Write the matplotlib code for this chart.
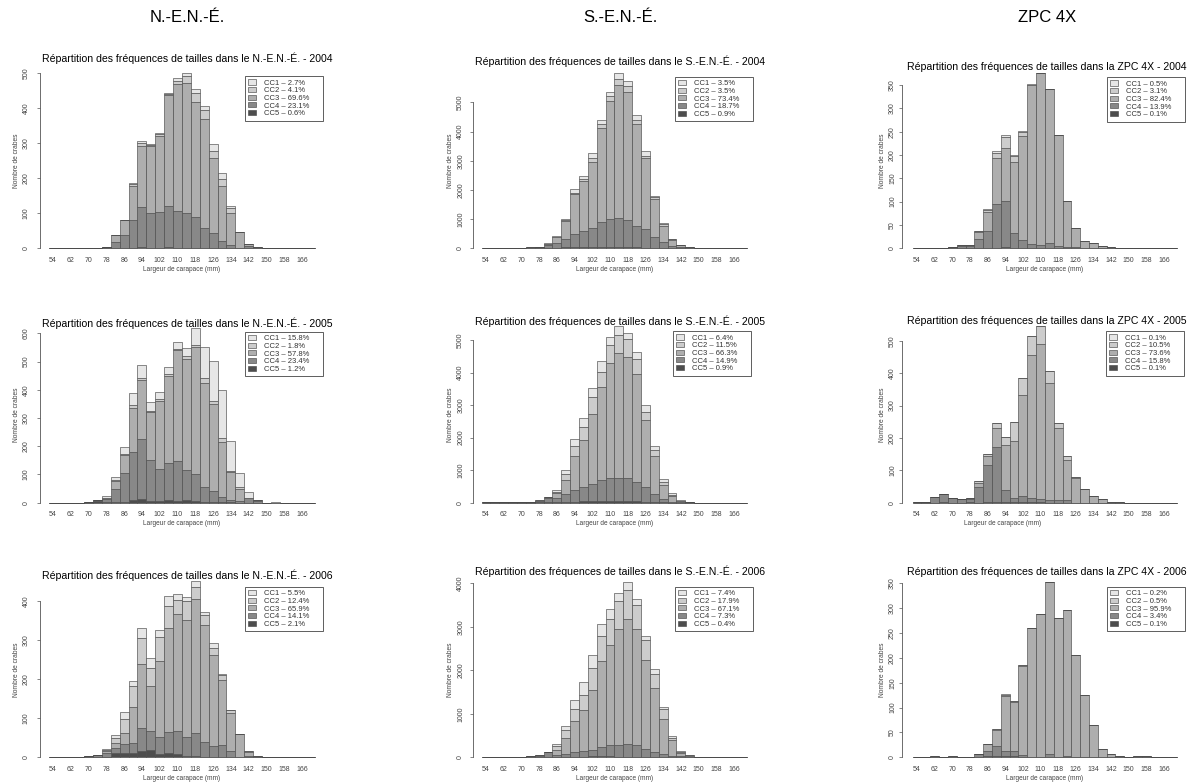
import matplotlib
matplotlib.use("Agg")
import matplotlib.pyplot as plt
import numpy as np

plt.rcParams['font.family'] = ['Liberation Sans', 'DejaVu Sans']

W, H = 1196, 784

# size classes (carapace width, mm) - bar centres
bins = np.arange(54, 171, 4)
tick_mm = np.arange(54, 167, 8)
classes = ["CC1", "CC2", "CC3", "CC4", "CC5"]
colors = {"CC1": "#e6e6e6", "CC2": "#cccccc", "CC3": "#aeaeae",
          "CC4": "#888888", "CC5": "#4d4d4d"}

zones = ["N.-E.N.-É.", "S.-E.N.-É.", "ZPC 4X"]
years = [2004, 2005, 2006]

# ---- N.-E.N.-É. 2004
nene_2004_cc5 = [0,0,0,0,0,0,1,1,1,2,3,2,2,3,2,2,2,2,1,0,0,0,0,0,0,0,0,0,0,0]
nene_2004_cc4 = [0,0,0,0,0,0,3,16,37,79,116,98,101,119,105,98,88,57,42,21,10,2,6,0,0,0,0,0,0,0]
nene_2004_cc3 = [0,0,0,0,0,0,0,21,43,98,173,192,219,316,362,371,329,311,214,158,90,44,6,4,0,0,0,0,0,0]
nene_2004_cc2 = [0,0,0,0,0,0,0,0,0,5,8,4,4,4,10,21,24,25,21,18,14,0,0,0,0,0,0,0,0,0]
nene_2004_cc1 = [0,0,0,0,0,0,0,0,0,4,7,3,3,3,7,8,12,12,19,19,8,0,0,0,0,0,0,0,0,0]
nene_2004_pct = [2.7, 4.1, 69.6, 23.1, 0.6]

# ---- S.-E.N.-É. 2004
sene_2004_cc5 = [0,0,0,0,0,0,0,10,20,30,35,40,45,50,50,50,40,35,25,15,10,5,0,0,0,0,0,0,0,0]
sene_2004_cc4 = [5,5,8,10,15,25,40,110,150,290,445,550,635,840,950,1000,930,715,625,385,190,75,50,20,5,0,0,0,0,0]
sene_2004_cc3 = [0,0,0,0,5,5,10,30,210,600,1370,1710,2280,3240,4060,4550,4380,3500,2430,1290,580,210,60,20,5,0,0,0,0,0]
sene_2004_cc2 = [0,0,0,0,0,0,0,10,20,40,50,70,140,120,140,200,200,150,90,70,40,15,10,0,0,0,0,0,0,0]
sene_2004_cc1 = [0,0,0,0,0,0,0,10,20,40,130,100,150,150,150,200,170,160,150,40,30,15,10,0,0,0,0,0,0,0]
sene_2004_pct = [3.5, 3.5, 73.4, 18.7, 0.9]

# ---- ZPC 4X 2004
zpc_2004_cc5 = [0,0,0,0,0,0,0,0,0,1,2,0,0,0,1,0,0,0,0,0,0,0,0,0,0,0,0,0,0,0]
zpc_2004_cc4 = [0,0,0,0,3,6,6,21,38,95,99,32,18,9,6,12,4,2,2,0,0,0,0,0,0,0,0,0,0,0]
zpc_2004_cc3 = [0,0,0,0,0,1,1,15,40,97,115,154,223,340,369,329,239,99,42,16,11,5,2,0,0,0,0,0,0,0]
zpc_2004_cc2 = [0,0,0,0,0,0,0,2,4,12,22,12,9,2,0,0,0,0,0,0,0,0,0,0,0,0,0,0,0,0]
zpc_2004_cc1 = [0,0,0,0,0,0,0,0,2,4,5,3,2,1,0,0,0,0,0,0,0,0,0,0,0,0,0,0,0,0]
zpc_2004_pct = [0.5, 3.1, 82.4, 13.9, 0.1]

# ---- N.-E.N.-É. 2005
nene_2005_cc5 = [0,0,0,0,0,5,2,2,4,10,14,5,5,8,5,8,5,3,3,2,1,0,0,0,0,0,0,0,0,0]
nene_2005_cc4 = [0,0,0,0,3,5,10,48,100,170,210,148,115,132,143,108,98,52,38,18,7,5,15,5,0,0,0,0,0,0]
nene_2005_cc3 = [0,0,0,0,0,0,3,27,66,155,209,167,240,308,392,394,449,370,309,195,100,43,0,3,0,0,0,0,0,0]
nene_2005_cc2 = [0,0,0,0,0,0,2,3,3,10,7,5,7,7,5,8,5,15,10,13,5,7,3,0,0,0,0,0,0,0]
nene_2005_cc1 = [0,0,0,0,0,0,5,12,24,43,47,32,26,25,23,30,63,110,143,172,104,50,20,0,0,3,0,0,0,0]
nene_2005_pct = [15.8, 1.8, 57.8, 23.4, 1.2]

# ---- S.-E.N.-É. 2005
sene_2005_cc5 = [0,0,0,0,0,0,10,15,20,30,35,40,45,50,60,55,50,40,30,20,10,5,0,0,0,0,0,0,0,0]
sene_2005_cc4 = [10,15,20,25,30,30,40,135,110,240,345,440,515,650,700,705,710,610,450,250,90,15,20,10,0,0,0,0,0,0]
sene_2005_cc3 = [0,0,0,0,0,0,15,10,170,430,1070,1450,2170,2850,3540,3840,3720,3300,2050,1180,440,180,40,10,0,0,0,0,0,0]
sene_2005_cc2 = [0,0,0,0,0,0,5,5,30,180,280,400,520,480,550,550,550,470,270,170,110,50,5,0,0,0,0,0,0,0]
sene_2005_cc1 = [0,0,0,0,0,0,0,5,50,120,220,270,270,320,250,270,200,210,200,130,80,40,5,0,0,0,0,0,0,0]
sene_2005_pct = [6.4, 11.5, 66.3, 14.9, 0.9]

# ---- ZPC 4X 2005
zpc_2005_cc5 = [0,0,0,2,0,0,1,0,3,2,1,2,1,1,1,0,0,0,0,0,0,0,0,0,0,0,0,0,0,0]
zpc_2005_cc4 = [1,3,18,24,13,10,11,50,112,170,37,13,19,14,9,7,7,8,0,0,0,0,0,0,0,0,0,0,0,0]
zpc_2005_cc3 = [0,0,0,2,0,2,1,12,28,60,139,175,312,442,480,361,223,125,77,42,22,10,3,2,0,0,0,0,0,0]
zpc_2005_cc2 = [0,0,0,0,0,0,0,4,7,13,26,60,52,57,55,37,15,12,3,0,0,0,0,0,0,0,0,0,0,0]
zpc_2005_cc1 = [0,0,0,0,0,0,0,0,0,0,0,0,1,1,0,0,0,0,0,0,0,0,0,0,0,0,0,0,0,0]
zpc_2005_pct = [0.1, 10.5, 73.6, 15.8, 0.1]

# ---- N.-E.N.-É. 2006
nene_2006_cc5 = [0,0,0,0,0,2,2,10,12,10,17,18,8,10,8,3,3,2,2,2,1,0,0,0,0,0,0,0,0,0]
nene_2006_cc4 = [0,0,0,0,3,3,8,15,22,27,58,50,45,55,60,50,60,38,28,30,14,1,4,0,0,0,0,0,0,0]
nene_2006_cc3 = [0,0,2,2,0,0,5,12,28,93,163,115,194,267,300,298,342,298,233,165,98,58,10,3,2,2,0,0,0,0]
nene_2006_cc2 = [0,0,0,0,0,0,3,12,35,52,67,45,60,55,35,48,32,27,17,13,8,1,1,0,0,0,0,0,0,0]
nene_2006_cc1 = [0,0,0,0,0,0,4,8,18,13,25,25,18,26,15,11,13,8,13,3,1,0,0,0,0,0,0,0,0,0]
nene_2006_pct = [5.5, 12.4, 65.9, 14.1, 2.1]

# ---- S.-E.N.-É. 2006
sene_2006_cc5 = [0,0,0,0,0,0,0,5,10,15,15,15,20,20,20,15,15,10,10,5,5,0,0,0,0,0,0,0,0,0]
sene_2006_cc4 = [0,0,0,5,10,25,40,115,50,65,105,135,150,210,260,265,295,270,190,125,75,30,20,10,0,0,0,0,0,0]
sene_2006_cc3 = [0,0,0,0,0,0,10,5,110,360,710,940,1380,1980,2300,2660,2860,2670,2040,1460,800,360,80,30,10,0,0,0,0,0]
sene_2006_cc2 = [0,0,0,0,0,0,0,3,80,180,280,340,500,580,600,660,670,540,450,330,230,60,30,10,0,0,0,0,0,0]
sene_2006_cc1 = [0,0,0,0,0,0,0,2,50,100,210,290,300,280,230,170,180,160,110,100,50,30,20,0,0,0,0,0,0,0]
sene_2006_pct = [7.4, 17.9, 67.1, 7.3, 0.4]

# ---- ZPC 4X 2006
zpc_2006_cc5 = [0,0,0,0,0,0,0,1,3,2,2,2,0,0,0,0,0,0,0,0,0,0,0,0,0,0,0,0,0,0]
zpc_2006_cc4 = [0,0,0,0,0,0,1,5,9,20,10,10,5,1,1,6,1,3,1,0,0,0,0,0,0,0,0,0,0,0]
zpc_2006_cc3 = [1,0,2,1,2,0,0,1,14,32,111,100,179,260,287,346,279,293,204,125,64,17,7,3,0,2,2,1,0,0]
zpc_2006_cc2 = [0,0,0,0,0,0,0,0,0,2,3,1,1,0,0,1,0,0,0,0,0,0,0,0,0,0,0,0,0,0]
zpc_2006_cc1 = [0,0,0,0,0,0,0,0,1,0,2,0,0,0,0,0,0,0,0,0,0,0,0,0,0,0,0,0,0,0]
zpc_2006_pct = [0.2, 0.5, 95.9, 3.4, 0.1]

panels = [
    [(nene_2004_cc1, nene_2004_cc2, nene_2004_cc3, nene_2004_cc4, nene_2004_cc5, nene_2004_pct),
     (sene_2004_cc1, sene_2004_cc2, sene_2004_cc3, sene_2004_cc4, sene_2004_cc5, sene_2004_pct),
     (zpc_2004_cc1, zpc_2004_cc2, zpc_2004_cc3, zpc_2004_cc4, zpc_2004_cc5, zpc_2004_pct)],
    [(nene_2005_cc1, nene_2005_cc2, nene_2005_cc3, nene_2005_cc4, nene_2005_cc5, nene_2005_pct),
     (sene_2005_cc1, sene_2005_cc2, sene_2005_cc3, sene_2005_cc4, sene_2005_cc5, sene_2005_pct),
     (zpc_2005_cc1, zpc_2005_cc2, zpc_2005_cc3, zpc_2005_cc4, zpc_2005_cc5, zpc_2005_pct)],
    [(nene_2006_cc1, nene_2006_cc2, nene_2006_cc3, nene_2006_cc4, nene_2006_cc5, nene_2006_pct),
     (sene_2006_cc1, sene_2006_cc2, sene_2006_cc3, sene_2006_cc4, sene_2006_cc5, sene_2006_pct),
     (zpc_2006_cc1, zpc_2006_cc2, zpc_2006_cc3, zpc_2006_cc4, zpc_2006_cc5, zpc_2006_pct)],
]

# y tick steps / top tick per panel
ytick_step = [[100, 1000, 50], [100, 1000, 100], [100, 1000, 50]]
ytick_top = [[500, 5000, 350], [600, 5000, 500], [400, 4000, 350]]

# layout (pixels)
axis_px = [40, 472.7, 902]
x54_px = [53, 486, 917]
x166_px = [302, 734, 1164]
base_px = [248.3, 502.7, 757.3]
ytop_tick_px = [[73.3, 102.3, 85], [333.3, 340, 340.7], [601, 583.3, 583.3]]
ylab_pad = [8, 6, 3.5]
title_y = [[58, 61.7, 66.7], [323, 321, 321], [575, 571.7, 571.7]]
title_x = [187, 620, 1047]
ylabel_x = [16, 450, 882]
legend_xy = [[(245, 76), (675, 76.7), (1106.7, 77)],
             [(245, 331.7), (673, 331), (1106, 331)],
             [(245, 586.7), (675, 586.7), (1106.7, 586.7)]]
legend_w = 78

fig = plt.figure(figsize=(W / 100, H / 100), dpi=100)
fig.patch.set_facecolor("white")


def fx(x):
    return x / W


def fy(y):
    return 1 - y / H


for c, zone in enumerate(zones):
    fig.text(fx(title_x[c]), fy(18), zone, fontsize=12, ha="center", va="center")

for r, year in enumerate(years):
    for c, zone in enumerate(zones):
        cc1, cc2, cc3, cc4, cc5, pct = panels[r][c]
        layers = {"CC5": cc5, "CC4": cc4, "CC3": cc3, "CC2": cc2, "CC1": cc1}
        totals = np.sum([np.array(v) for v in layers.values()], axis=0)

        ppm = (x166_px[c] - x54_px[c]) / 112.0
        xmin = 54 - (x54_px[c] - axis_px[c]) / ppm
        xmax = 174
        left = axis_px[c]
        right = x54_px[c] + (xmax - 54) * ppm
        base = base_px[r]
        scale = (base - ytop_tick_px[r][c]) / ytick_top[r][c]
        ymax = max(totals.max(), ytick_top[r][c])
        top = base - ymax * scale

        ax = fig.add_axes([fx(left), fy(base), (right - left) / W, (base - top) / H])
        ax.set_xlim(xmin, xmax)
        ax.set_ylim(0, ymax)
        ax.patch.set_alpha(0)

        bottom = np.zeros(len(bins))
        handles = {}
        for cl in ["CC5", "CC4", "CC3", "CC2", "CC1"]:
            vals = np.array(layers[cl], dtype=float)
            b = ax.bar(bins, vals, width=4, bottom=bottom, color=colors[cl],
                       edgecolor="#4a4a4a", linewidth=0.45, clip_on=False)
            handles[cl] = b
            bottom = bottom + vals
        ax.hlines(0, bins[0] - 2, bins[-1] + 2, color="#4a4a4a", lw=0.6)

        for s in ["top", "right", "bottom"]:
            ax.spines[s].set_visible(False)
        ax.spines["left"].set_color("#555555")
        ax.spines["left"].set_linewidth(0.6)
        ax.spines["left"].set_bounds(0, ytick_top[r][c])

        ax.set_yticks(np.arange(0, ytick_top[r][c] + 1, ytick_step[r][c]))
        ax.tick_params(axis="y", direction="out", length=2.3, width=0.5,
                       colors="#555555", labelsize=5.0, labelrotation=90,
                       pad=ylab_pad[c] * 0.72 - 0.5, labelcolor="#444444")
        for lab in ax.get_yticklabels():
            lab.set_va("center")
        ax.set_xticks(tick_mm)
        ax.set_xticklabels([str(t) for t in tick_mm])
        ax.tick_params(axis="x", length=0, labelsize=5.0, pad=6.2,
                       labelcolor="#444444")

        prep = "la" if zone == "ZPC 4X" else "le"
        fig.text(fx(title_x[c]), fy(title_y[r][c]),
                 f"Répartition des fréquences de tailles dans {prep} {zone} - {year}",
                 fontsize=7.6, ha="center", va="center")

        fig.text(fx(ylabel_x[c]), fy((base + top) / 2), "Nombre de crabes",
                 fontsize=4.8, rotation=90, ha="center", va="center", color="#444444")

        xl_center = x54_px[c] + 58 * ppm
        if r == 1 and c == 2:
            xl_center = 1003
        fig.text(fx(xl_center), fy(base + 21), "Largeur de carapace (mm)",
                 fontsize=4.7, ha="center", va="center", color="#444444")

        lx, ly = legend_xy[r][c]
        labels = [f"{cl} – {p}%" for cl, p in zip(classes, pct)]
        leg = ax.legend([handles[cl] for cl in classes], labels,
                        bbox_to_anchor=(fx(lx), fy(ly) - 0.2, legend_w / W, 0.2),
                        bbox_transform=fig.transFigure, loc="upper left",
                        mode="expand", borderaxespad=0, fontsize=5.5,
                        handlelength=1.0, handleheight=0.65, handletextpad=1.1,
                        borderpad=0.45, labelspacing=0.05, fancybox=False,
                        framealpha=1, edgecolor="#444444")
        leg.get_frame().set_linewidth(0.6)
        for t in leg.get_texts():
            t.set_color("#333333")

fig.savefig("out.png", dpi=100, facecolor="white")
